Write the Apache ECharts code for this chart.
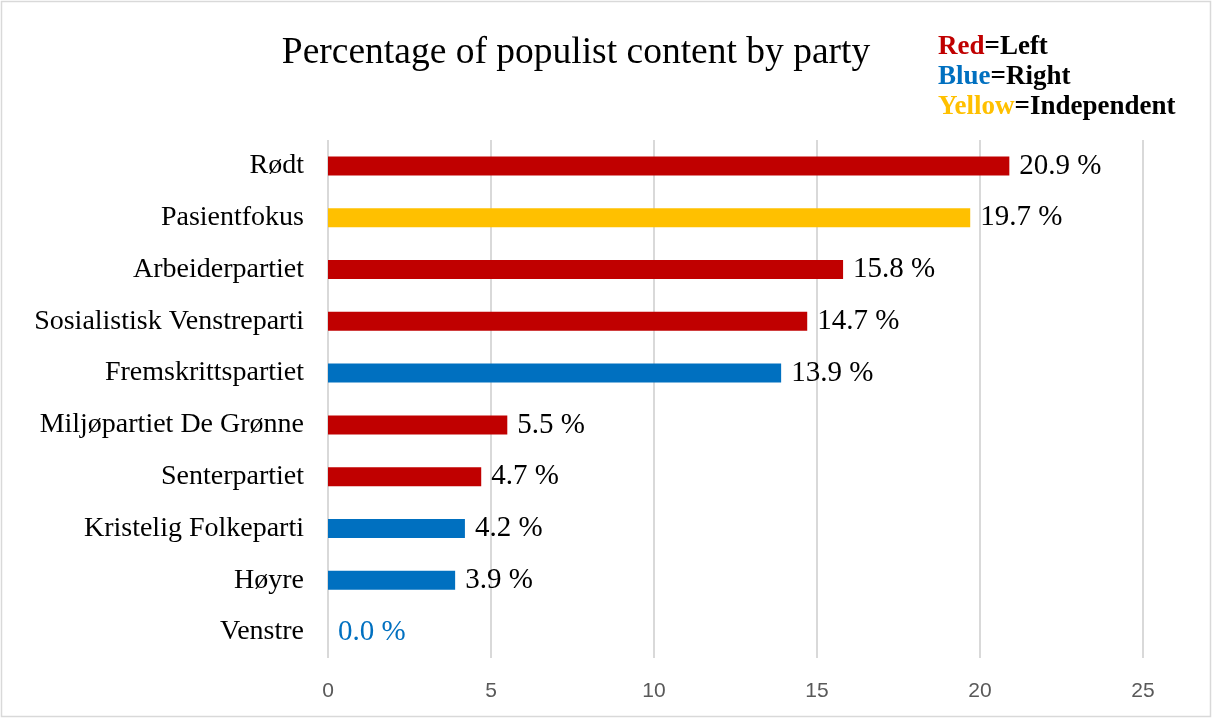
<!DOCTYPE html>
<html>
<head>
<meta charset="utf-8">
<script src="https://cdn.jsdelivr.net/npm/echarts@6/dist/echarts.min.js"></script>
<style>html,body{margin:0;padding:0;background:#fff;}#chart{width:1213px;height:719px;}</style>
</head>
<body>
<div id="chart"></div>
<script>
const categories = ['Rødt','Pasientfokus','Arbeiderpartiet','Sosialistisk Venstreparti','Fremskrittspartiet','Miljøpartiet De Grønne','Senterpartiet','Kristelig Folkeparti','Høyre','Venstre'];
const values = [20.9, 19.7, 15.8, 14.7, 13.9, 5.5, 4.7, 4.2, 3.9, 0.0];
const blocs = ['Left','Independent','Left','Left','Right','Left','Left','Right','Right','Right'];
const xTicks = [0, 5, 10, 15, 20, 25];
const blocColors = { Left: '#C00000', Right: '#0070C0', Independent: '#FFC000' };

const chart = echarts.init(document.getElementById('chart'));
const serif = '"Liberation Serif","Times New Roman",serif';
chart.setOption({
  animation: false,
  backgroundColor: '#fff',
  title: {
    text: 'Percentage of populist content by party',
    left: 571, top: 29, textAlign: 'center',
    textStyle: { fontFamily: serif, fontSize: 37.5, fontWeight: 'normal', color: '#000' }
  },
  graphic: [
    { type: 'rect', shape: { x: 1.5, y: 1.5, width: 1209, height: 715 }, style: { fill: 'none', stroke: '#d9d9d9', lineWidth: 1.5 }, silent: true },
    {
      type: 'text', left: 938, top: 34,
      style: {
        text: '{r|Red}{b|=Left}\n{u|Blue}{b|=Right}\n{y|Yellow}{b|=Independent}',
        rich: {
          r: { fill: blocColors.Left, fontFamily: serif, fontWeight: 'bold', fontSize: 27, lineHeight: 30 },
          u: { fill: blocColors.Right, fontFamily: serif, fontWeight: 'bold', fontSize: 27, lineHeight: 30 },
          y: { fill: blocColors.Independent, fontFamily: serif, fontWeight: 'bold', fontSize: 27, lineHeight: 30 },
          b: { fill: '#000', fontFamily: serif, fontWeight: 'bold', fontSize: 27, lineHeight: 30 }
        }
      }
    }
  ],
  grid: { left: 328, right: 70, top: 140, bottom: 61, containLabel: false },
  xAxis: {
    type: 'value', min: xTicks[0], max: xTicks[xTicks.length - 1], interval: 5,
    axisLine: { show: false }, axisTick: { show: false },
    splitLine: { show: true, lineStyle: { color: '#d9d9d9', width: 2 } },
    axisLabel: { margin: 23, fontFamily: '"Liberation Sans",Arial,sans-serif', fontSize: 21, color: '#595959' }
  },
  yAxis: {
    type: 'category', data: categories, inverse: true,
    axisLine: { show: false }, axisTick: { show: false },
    axisLabel: { margin: 24, fontFamily: serif, fontSize: 28, color: '#000' }
  },
  series: [{
    type: 'bar',
    barWidth: 19,
    data: values.map((v, i) => ({
      value: v,
      itemStyle: { color: blocColors[blocs[i]] },
      label: { color: v === 0 ? blocColors[blocs[i]] : '#000' }
    })),
    label: {
      show: true, position: 'right', distance: 10,
      fontFamily: serif, fontSize: 29,
      formatter: p => p.value.toFixed(1) + ' %'
    }
  }]
});
</script>
</body>
</html>
